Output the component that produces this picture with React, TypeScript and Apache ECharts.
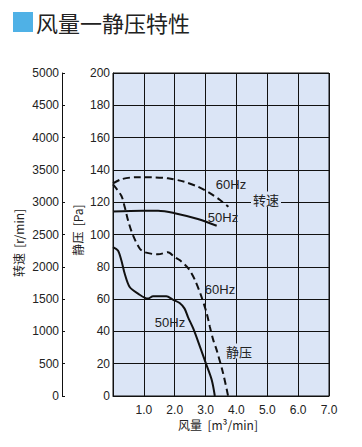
import React, { useEffect, useRef } from "react";
import * as echarts from "echarts";

const xTicks = [0, 1, 2, 3, 4, 5, 6, 7];
const speed60: [number, number][] = [
  [0, 3290], [0.27, 3355], [0.7, 3385], [1.24, 3385], [1.78, 3370], [2.32, 3315],
  [2.75, 3240], [3.14, 3140], [3.47, 3034], [3.74, 2930],
];
const speed50: [number, number][] = [
  [0, 2855], [0.95, 2868], [1.46, 2868], [2.0, 2830], [2.75, 2740], [3.36, 2636],
];
const static60: [number, number][] = [
  [0, 131], [0.27, 124], [0.38, 117], [0.49, 108.6], [0.65, 99.4], [0.87, 91.2],
  [1.03, 89], [1.46, 87.7], [1.78, 89], [2.0, 86], [2.17, 84], [2.44, 79],
  [2.66, 71.6], [2.87, 61.3], [3.04, 51], [3.14, 42.8], [3.25, 34.6], [3.36, 28.4],
  [3.57, 14], [3.73, 0],
];
const static50: [number, number][] = [
  [0, 92.2], [0.16, 90.1], [0.27, 84], [0.38, 75.7], [0.54, 67.5], [0.81, 63.4],
  [1.13, 60.3], [1.3, 61.7], [1.73, 61.7], [1.94, 59.7], [2.16, 57.6], [2.32, 54.1],
  [2.43, 48.9], [2.6, 41.8], [2.82, 30.4], [3.01, 20.2], [3.2, 9.9], [3.3, 0],
];

const FONT = "'Liberation Sans', Arial, sans-serif";
const CJK = "'Noto Sans CJK SC', sans-serif";
const TXT = "#222";
const BG = "#dbe5f6";

export default function App() {
  const ref = useRef<HTMLDivElement>(null);
  useEffect(() => {
    if (!ref.current) return;
    const chart = echarts.init(ref.current, null, { renderer: "svg" });
    const lbl = (text: string, x: number, y: number, bg?: boolean) => ({
      type: "text",
      x,
      y,
      z: 100,
      style: {
        text,
        fill: TXT,
        font: `13px ${text.match(/[\u4e00-\u9fff]/) ? CJK : FONT}`,
        align: "center",
        verticalAlign: "middle",
        backgroundColor: bg ? BG : undefined,
        padding: bg ? [1, 2] : 0,
      },
    });
    chart.setOption({
      animation: false,
      grid: {
        left: 113,
        top: 73,
        width: 216,
        height: 323,
        show: true,
        backgroundColor: BG,
        borderColor: "#111",
        borderWidth: 1,
      },
      xAxis: {
        type: "value",
        min: xTicks[0],
        max: xTicks[xTicks.length - 1],
        interval: 1,
        axisLine: { lineStyle: { color: "#111" } },
        axisTick: { show: false },
        splitLine: { show: true, lineStyle: { color: "#111", width: 1 } },
        axisLabel: {
          color: TXT,
          fontFamily: FONT,
          fontSize: 12,
          margin: 8,
          formatter: (v: number) => (v === 0 ? "" : v.toFixed(1)),
        },
      },
      yAxis: [
        {
          type: "value",
          min: 0,
          max: 200,
          interval: 20,
          position: "left",
          axisLine: { show: true, lineStyle: { color: "#111" } },
          axisTick: { show: true, inside: true, length: 3, lineStyle: { color: "#111" } },
          splitLine: { show: true, lineStyle: { color: "#111", width: 1 } },
          axisLabel: { color: TXT, fontFamily: FONT, fontSize: 12, margin: 3, formatter: (v: number) => String(v) },
        },
        {
          type: "value",
          min: 0,
          max: 5000,
          interval: 500,
          position: "left",
          offset: 51,
          axisLine: { show: true, lineStyle: { color: "#111" } },
          axisTick: { show: true, inside: true, length: 3, lineStyle: { color: "#111" } },
          splitLine: { show: false },
          axisLabel: { color: TXT, fontFamily: FONT, fontSize: 12, margin: 3, formatter: (v: number) => String(v) },
        },
      ],
      series: [
        {
          type: "line",
          yAxisIndex: 1,
          data: speed60,
          smooth: 0.3,
          symbol: "none",
          lineStyle: { color: "#111", width: 2, type: [7, 4] },
        },
        {
          type: "line",
          yAxisIndex: 1,
          data: speed50,
          smooth: 0.3,
          symbol: "none",
          lineStyle: { color: "#111", width: 2 },
        },
        {
          type: "line",
          yAxisIndex: 0,
          data: static60,
          smooth: 0.3,
          symbol: "none",
          lineStyle: { color: "#111", width: 2, type: [7, 4] },
        },
        {
          type: "line",
          yAxisIndex: 0,
          data: static50,
          smooth: 0.3,
          symbol: "none",
          lineStyle: { color: "#111", width: 2 },
        },
      ],
      graphic: [
        { type: "rect", shape: { x: 13, y: 12, width: 20, height: 20 }, style: { fill: "#4fb1e6" } },
        {
          type: "text",
          x: 36,
          y: 22,
          style: { text: "风量一静压特性", fill: TXT, font: `22px ${CJK}`, verticalAlign: "middle" },
        },
        {
          type: "text",
          x: 18,
          y: 243,
          rotation: Math.PI / 2,
          style: { text: "转速  [r/min]", fill: TXT, font: `12px ${CJK}`, align: "center", verticalAlign: "middle" },
        },
        {
          type: "text",
          x: 77,
          y: 230,
          rotation: Math.PI / 2,
          style: { text: "静压  [Pa]", fill: TXT, font: `12px ${CJK}`, align: "center", verticalAlign: "middle" },
        },
        {
          type: "text",
          x: 218,
          y: 424,
          style: { text: "风量  [m³/min]", fill: TXT, font: `12px ${CJK}`, align: "center", verticalAlign: "middle" },
        },
        lbl("60Hz", 231, 184),
        lbl("转速", 266, 199, true),
        lbl("50Hz", 223, 217),
        lbl("60Hz", 220, 289),
        lbl("50Hz", 170, 322),
        lbl("静压", 239, 351, true),
      ],
    });
    return () => chart.dispose();
  }, []);
  return (
    <div
      ref={ref}
      style={{ position: "absolute", left: 0, top: 0, width: 362, height: 447, background: "#fff" }}
    />
  );
}
